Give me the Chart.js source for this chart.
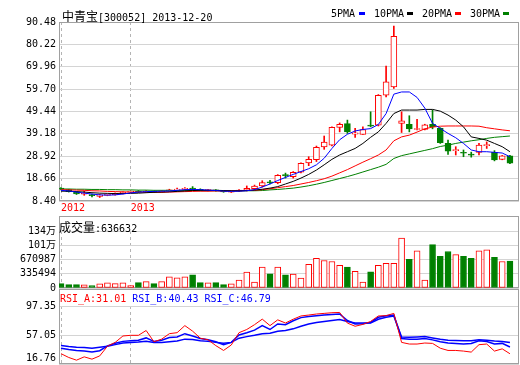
<!DOCTYPE html>
<html>
<head>
<meta charset="utf-8">
<script src="https://cdn.jsdelivr.net/npm/chart.js@4.4.0/dist/chart.umd.min.js"></script>
<style>
  html, body { margin: 0; padding: 0; background: #fff; overflow: hidden; }
  #wrap { position: relative; width: 520px; height: 365px; overflow: hidden; }
  canvas { position: absolute; left: 0; }
  .t { position: absolute; white-space: nowrap; font: 10px "DejaVu Sans Mono", monospace; line-height: 14px; color: #000; }
  .cn { font: 12px "Noto Sans CJK SC"; }
  .sq { position: absolute; width: 6px; height: 3px; }
</style>
</head>
<body>
<div id="wrap">
  <canvas id="priceChart" width="520" height="215" style="top:0px"></canvas>
  <canvas id="volChart" width="520" height="86" style="top:211px"></canvas>
  <canvas id="rsiChart" width="520" height="96" style="top:284px"></canvas>

  <div class="t" style="left:62px;top:7px"><span class="cn">中青宝</span>[300052] 2013-12-20</div>
  <div class="t" style="left:331px;top:7px">5PMA</div><div class="sq" style="left:359px;top:12px;background:#0000ff"></div>
  <div class="t" style="left:374px;top:7px">10PMA</div><div class="sq" style="left:407px;top:12px;background:#000"></div>
  <div class="t" style="left:422px;top:7px">20PMA</div><div class="sq" style="left:455px;top:12px;background:#ff0000"></div>
  <div class="t" style="left:470px;top:7px">30PMA</div><div class="sq" style="left:503px;top:12px;background:#008000"></div>

  <div class="t" id="volTitle" style="left:59px;top:218px"></div>
  <div class="t" id="rsiTitle" style="left:60px;top:292px"></div>
</div>
<script>
// 周K线数据 (2012-10 ~ 2013-12-20)
const yearLabels = ['2012', '2013'];
const yearIndex = [0, 9];
const priceTicks = [8.40, 18.66, 28.92, 39.18, 49.44, 59.70, 69.96, 80.22, 90.48];
const volTickValues = [0, 335494, 670987, 1006481, 1341974];
const volTickLabels = ['0', '335494', '670987', '101万', '134万'];
const rsiTicks = [16.76, 57.05, 97.35];

const opens = [14.3, 13.6, 12.5, 11.5, 11.4, 10.5, 11.0, 11.3, 11.9, 12.5, 12.9, 12.5, 12.9, 12.5, 13.0, 13.4, 13.7, 14.1, 13.8, 13.2,
  13.5, 13.0, 12.5, 12.9, 13.4, 14.0, 15.3, 17.0, 16.8, 20.3, 19.6, 21.6, 25.9, 27.3, 33.2, 34.0, 42.1, 43.9, 39.1, 38.9,
  43.2, 43.2, 56.9, 60.7, 44.0, 43.5, 41.2, 41.2, 43.5, 41.7, 34.8, 31.5, 30.7, 29.7, 30.7, 33.8, 30.7, 27.5, 29.1];
const highs = [14.6, 13.8, 12.7, 12.9, 11.6, 11.5, 11.6, 12.1, 12.6, 13.0, 13.2, 13.2, 13.0, 13.2, 13.8, 14.3, 14.6, 15.0, 14.0, 13.8,
  13.6, 13.2, 13.1, 13.6, 15.3, 15.7, 17.7, 17.9, 20.5, 21.2, 21.9, 25.9, 28.7, 33.6, 38.2, 42.4, 44.2, 45.5, 41.7, 42.4,
  49.3, 57.2, 70.3, 88.6, 49.3, 47.5, 45.9, 43.6, 50.1, 42.0, 36.3, 33.3, 31.8, 30.8, 34.8, 35.5, 31.5, 29.3, 29.3];
const lows = [13.5, 12.5, 11.4, 11.0, 10.3, 10.0, 10.8, 11.1, 11.7, 12.3, 12.3, 12.3, 12.3, 12.4, 12.8, 13.2, 13.5, 13.4, 13.1, 13.0,
  12.9, 12.4, 12.3, 12.7, 13.0, 13.5, 14.8, 16.2, 16.3, 18.9, 18.9, 21.3, 24.6, 26.5, 32.1, 33.6, 40.1, 39.4, 37.6, 38.9,
  42.4, 42.8, 56.1, 60.0, 39.8, 40.1, 41.0, 41.0, 41.5, 34.8, 29.8, 29.5, 28.7, 28.5, 29.5, 32.5, 26.8, 27.3, 25.5];
const closes = [13.8, 12.7, 11.6, 11.8, 10.8, 11.2, 11.3, 11.9, 12.4, 12.8, 12.5, 12.9, 12.5, 13.0, 13.5, 13.8, 14.1, 13.9, 13.3, 13.5,
  13.1, 12.6, 12.9, 13.4, 14.2, 15.2, 16.8, 16.7, 20.2, 20.0, 21.6, 25.7, 27.5, 33.0, 35.4, 42.2, 43.5, 40.1, 39.7, 41.2,
  42.7, 56.9, 63.0, 83.9, 45.2, 41.4, 41.5, 43.3, 42.4, 35.1, 31.3, 31.9, 30.3, 29.4, 34.0, 34.1, 27.2, 29.1, 25.7];
const volumes = [103000, 80000, 80000, 73000, 57000, 96000, 119000, 103000, 119000, 57000, 126000, 149000, 103000, 149000, 264000,
  241000, 264000, 310000, 126000, 119000, 126000, 80000, 96000, 188000, 372000, 142000, 493000, 333000, 493000, 310000,
  326000, 234000, 555000, 700000, 647000, 624000, 532000, 493000, 395000, 142000, 379000, 532000, 578000, 578000, 1174000,
  677000, 876000, 188000, 1021000, 746000, 860000, 784000, 746000, 700000, 876000, 899000, 723000, 624000, 636632];

const ma5 = [13.3, 13.0, 12.5, 12.0, 11.6, 11.2, 11.1, 11.2, 11.6, 12.1, 12.5, 12.7, 12.8, 12.9, 13.0, 13.3, 13.6, 13.7, 13.6, 13.4,
  13.2, 12.9, 12.8, 12.9, 13.1, 13.6, 14.8, 16.2, 17.8, 19.2, 20.6, 21.9, 23.2, 25.0, 28.0, 32.5, 36.5, 39.0, 40.5, 41.2,
  41.6, 43.5, 48.5, 57.4, 58.4, 58.4, 55.9, 51.0, 44.0, 41.7, 39.4, 37.4, 34.8, 31.8, 31.0, 31.0, 30.7, 30.4, 28.7];
const ma10 = [12.9, 12.9, 12.7, 12.5, 12.2, 12.0, 11.9, 11.8, 11.8, 11.9, 12.0, 12.2, 12.4, 12.5, 12.6, 12.8, 13.0, 13.2, 13.3, 13.3,
  13.3, 13.2, 13.1, 13.1, 13.2, 13.4, 13.8, 14.3, 15.0, 16.2, 17.4, 18.9, 20.6, 22.6, 25.0, 27.5, 29.5, 31.0, 32.5, 34.8,
  37.6, 40.1, 44.0, 48.5, 50.1, 50.1, 50.1, 50.4, 50.4, 49.6, 47.8, 45.5, 42.4, 37.8, 37.1, 36.3, 34.8, 33.3, 31.0];
const ma20 = [13.6, 13.5, 13.4, 13.3, 13.1, 13.0, 12.8, 12.7, 12.6, 12.5, 12.5, 12.4, 12.4, 12.4, 12.5, 12.6, 12.7, 12.8, 12.9, 12.9,
  13.0, 13.0, 13.0, 13.1, 13.2, 13.3, 13.6, 14.0, 14.5, 15.0, 15.5, 16.2, 16.9, 17.7, 18.6, 19.8, 21.3, 22.8, 24.5, 26.2,
  27.8, 29.5, 31.8, 36.0, 37.8, 38.6, 40.0, 41.5, 42.3, 42.7, 42.8, 42.8, 42.8, 42.8, 42.7, 42.0, 41.5, 41.0, 40.6];
const ma30 = [13.9, 13.9, 13.8, 13.8, 13.7, 13.7, 13.6, 13.6, 13.5, 13.5, 13.4, 13.4, 13.3, 13.3, 13.3, 13.2, 13.2, 13.2, 13.1, 13.1,
  13.1, 13.0, 13.0, 13.0, 13.1, 13.1, 13.2, 13.5, 13.7, 14.0, 14.3, 14.8, 15.4, 16.1, 16.9, 17.8, 18.7, 19.6, 20.6, 21.7,
  22.8, 23.9, 25.2, 27.9, 29.2, 30.0, 30.8, 31.6, 32.4, 33.4, 34.0, 34.8, 35.4, 36.0, 36.5, 37.1, 37.6, 37.9, 38.2];

const rsiA = [31.1, 25.8, 22.1, 26.7, 23.5, 28.0, 41.5, 46.8, 55.7, 56.6, 56.6, 63.3, 47.7, 51.3, 58.9, 60.3, 70.1, 62.4, 52.6, 50.4,
  42.3, 35.6, 43.2, 60.3, 64.7, 71.4, 79.1, 70.1, 78.1, 73.7, 79.0, 83.5, 84.8, 86.2, 87.1, 88.0, 88.4, 73.6, 69.2, 71.8,
  75.9, 83.5, 83.9, 87.1, 46.8, 44.5, 44.5, 45.9, 45.4, 38.7, 35.6, 35.6, 34.7, 33.3, 43.6, 44.5, 34.7, 37.8, 31.01];
const rsiB = [38.8, 37.0, 35.6, 34.7, 33.4, 35.2, 42.0, 45.5, 48.2, 49.0, 49.9, 53.0, 48.2, 49.9, 53.5, 54.4, 58.9, 55.7, 52.2, 50.4,
  47.7, 43.7, 46.8, 57.1, 60.3, 63.8, 70.1, 64.7, 72.4, 71.4, 76.8, 81.2, 82.6, 83.9, 84.8, 85.7, 86.2, 77.2, 72.3, 72.7,
  74.5, 81.7, 83.9, 84.8, 52.1, 51.2, 51.2, 52.1, 50.3, 47.7, 45.9, 45.4, 44.5, 45.4, 49.0, 48.1, 44.5, 45.4, 40.43];
const rsiC = [42.3, 41.0, 40.1, 39.7, 38.8, 40.1, 41.5, 43.7, 45.9, 46.8, 47.3, 48.2, 46.8, 46.8, 47.7, 48.6, 51.3, 50.8, 49.0, 48.2,
  46.8, 45.5, 46.8, 52.6, 54.8, 56.6, 58.9, 59.5, 62.4, 63.3, 65.6, 69.2, 72.3, 74.5, 75.9, 77.2, 78.6, 75.9, 73.6, 73.6,
  73.6, 79.0, 81.7, 83.5, 54.4, 53.9, 54.4, 54.8, 53.0, 51.2, 49.9, 49.5, 49.0, 49.0, 50.3, 49.9, 48.6, 48.1, 46.79];

const RED = '#ff0000', GREEN = '#008000', BLUE = '#0000ff', BLACK = '#000000';
const isUp = closes.map((c, i) => c >= opens[i]);
const pt = arr => arr.map((v, i) => ({ x: i, y: v }));
const tickFont = { family: "'DejaVu Sans Mono', 'Noto Sans CJK SC', monospace", size: 10 };

// 面板外框
const framePlugin = {
  id: 'frame',
  beforeDatasetsDraw(chart, args, opts) {
    const a = chart.chartArea;
    const ctx = chart.ctx;
    const x0 = Math.round(a.left) + 0.5, x1 = Math.round(a.right) - 0.5;
    const y0 = Math.round(a.top - (opts.extra || 0)) + 0.5, y1 = Math.round(a.bottom) - 0.5;
    ctx.save();
    ctx.strokeStyle = '#a0a0a0';
    ctx.lineWidth = 1;
    ctx.strokeRect(x0, y0, x1 - x0, y1 - y0);
    ctx.restore();
  }
};

function yearAxis(showLabels) {
  return {
    type: 'linear', min: -0.26, max: 59.17, offset: false,
    afterBuildTicks: s => { s.ticks = yearIndex.map(v => ({ value: v })); },
    afterFit: s => { s.height = showLabels ? 14 : 0; },
    grid: { color: '#b4b4b4', offset: false, drawTicks: false },
    border: { display: false, dash: [3, 3] },
    ticks: { display: showLabels, align: 'start', padding: 1, color: RED, font: tickFont, maxRotation: 0, autoSkip: false,
      callback: (v, i) => yearLabels[i] }
  };
}

function valueAxis(min, max, ticks, labelFn) {
  return {
    position: 'left', min: min, max: max, beginAtZero: false,
    afterBuildTicks: s => { s.ticks = ticks.map(v => ({ value: v })); },
    afterFit: s => { s.width = 59; },
    grid: { color: '#d4d4d4', drawTicks: false },
    border: { display: false },
    ticks: { color: '#000', font: tickFont, padding: 3, autoSkip: false, callback: labelFn }
  };
}

function maLine(arr, color) {
  return { type: 'line', data: pt(arr), borderColor: color, borderWidth: 1, pointRadius: 0, tension: 0, fill: false, order: 0 };
}

const commonOpts = {
  responsive: false, animation: false, devicePixelRatio: 1,
  events: []
};

new Chart(document.getElementById('priceChart'), {
  type: 'bar',
  data: {
    datasets: [
      maLine(ma5, BLUE), maLine(ma10, BLACK), maLine(ma20, RED), maLine(ma30, GREEN),
      {
        data: opens.map((o, i) => ({ x: i, y: [o, closes[i]] })),
        backgroundColor: isUp.map(u => u ? '#ffffff' : GREEN),
        borderColor: isUp.map(u => u ? RED : GREEN),
        borderWidth: 1, borderSkipped: false, barThickness: 6, minBarLength: 1, grouped: false, order: 1
      },
      {
        data: lows.map((l, i) => ({ x: i, y: [l, highs[i]] })),
        backgroundColor: isUp.map(u => u ? RED : GREEN),
        borderWidth: 0, barThickness: 1, grouped: false, order: 2
      }
    ]
  },
  options: Object.assign({}, commonOpts, {
    layout: { padding: { top: 22, right: 1, bottom: 0, left: 0 } },
    plugins: { legend: { display: false }, tooltip: { enabled: false }, frame: { extra: 0 } },
    scales: {
      x: yearAxis(true),
      y: valueAxis(8.40, 90.48, priceTicks, v => v.toFixed(2))
    }
  }),
  plugins: [framePlugin]
});

new Chart(document.getElementById('volChart'), {
  type: 'bar',
  data: {
    datasets: [{
      data: pt(volumes),
      backgroundColor: isUp.map(u => u ? '#ffffff' : GREEN),
      borderColor: isUp.map(u => u ? RED : GREEN),
      borderWidth: 1, borderSkipped: false, barThickness: 6, grouped: false
    }]
  },
  options: Object.assign({}, commonOpts, {
    layout: { padding: { top: 20, right: 1, bottom: 8, left: 0 } },
    plugins: { legend: { display: false }, tooltip: { enabled: false }, frame: { extra: 15 } },
    scales: {
      x: yearAxis(false),
      y: valueAxis(0, 1341974, volTickValues, (v, i) => volTickLabels[i])
    }
  }),
  plugins: [framePlugin]
});

new Chart(document.getElementById('rsiChart'), {
  type: 'line',
  data: {
    datasets: [
      { data: pt(rsiA), borderColor: RED, borderWidth: 1, pointRadius: 0, tension: 0 },
      { data: pt(rsiB), borderColor: BLUE, borderWidth: 1.5, pointRadius: 0, tension: 0 },
      { data: pt(rsiC), borderColor: BLUE, borderWidth: 1.5, pointRadius: 0, tension: 0 }
    ]
  },
  options: Object.assign({}, commonOpts, {
    layout: { padding: { top: 22, right: 1, bottom: 16, left: 0 } },
    plugins: { legend: { display: false }, tooltip: { enabled: false }, frame: { extra: 17 } },
    scales: {
      x: yearAxis(false),
      y: valueAxis(16.76, 97.35, rsiTicks, v => v === 16.76 ? ['16.76', ''] : v.toFixed(2))
    }
  }),
  plugins: [framePlugin]
});

document.getElementById('volTitle').innerHTML = '<span class="cn">成交量</span>:' + volumes[volumes.length - 1];
document.getElementById('rsiTitle').innerHTML =
  '<span style="color:#ff0000">RSI_A:' + rsiA[rsiA.length - 1].toFixed(2) + '</span> ' +
  '<span style="color:#0000ff">RSI_B:' + rsiB[rsiB.length - 1].toFixed(2) + '</span> ' +
  '<span style="color:#0000ff">RSI_C:' + rsiC[rsiC.length - 1].toFixed(2) + '</span>';
</script>
</body>
</html>
